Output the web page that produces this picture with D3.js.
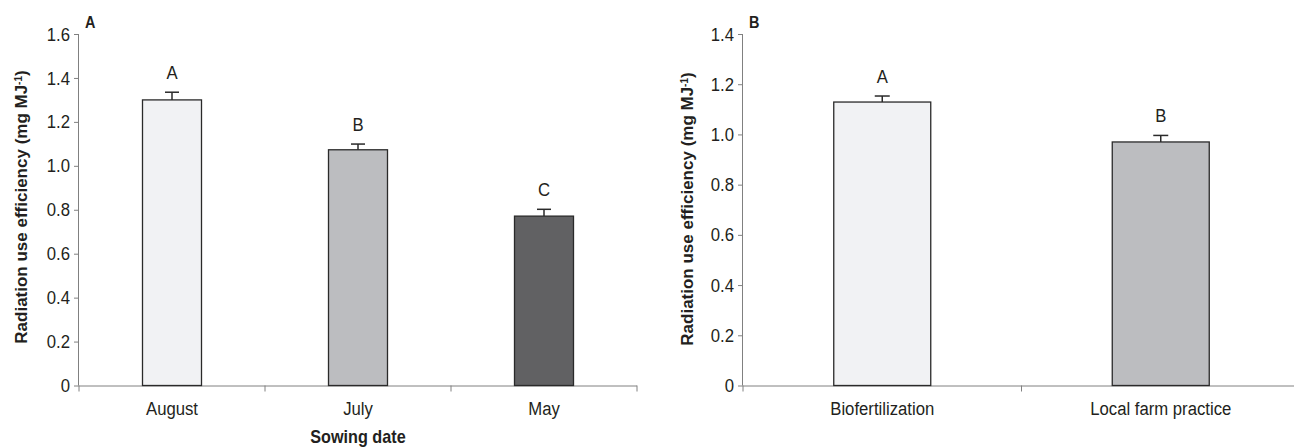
<!DOCTYPE html>
<html>
<head>
<meta charset="utf-8">
<script src="https://cdn.jsdelivr.net/npm/d3@7"></script>
<style>
html,body{margin:0;padding:0;background:#fff;}
svg{display:block;}
text{font-family:"Liberation Sans Narrow","Liberation Sans",Arial,sans-serif;fill:#231f20;}
</style>
</head>
<body>
<svg id="chart" width="1294" height="447"></svg>
<script>
// ---- data ----
const categoriesA = ["August", "July", "May"];
const valuesA = [1.30, 1.073, 0.771];
const errorsA = [0.035, 0.026, 0.031];
const lettersA = ["A", "B", "C"];
const colorsA = ["#f1f2f4", "#bcbdc0", "#616163"];
const ticksA = [0, 0.2, 0.4, 0.6, 0.8, 1.0, 1.2, 1.4, 1.6];

const categoriesB = ["Biofertilization", "Local farm practice"];
const valuesB = [1.129, 0.970];
const errorsB = [0.024, 0.026];
const lettersB = ["A", "B"];
const colorsB = ["#f1f2f4", "#bcbdc0"];
const ticksB = [0, 0.2, 0.4, 0.6, 0.8, 1.0, 1.2, 1.4];

const svg = d3.select("#chart");
const axisColor = "#808080";
const textColor = "#3a3a3a";
const fmt = v => v === 0 ? "0" : d3.format(".1f")(v);
const K = 0.88; // horizontal condensing to mimic a condensed typeface

function condense(sel, k) {
  sel.each(function () {
    const t = d3.select(this);
    const x = +(t.attr("x") || 0);
    t.attr("x", x / k).attr("transform", `scale(${k},1)`);
  });
}

function panel(opt) {
  const g = svg.append("g");
  const y = d3.scaleLinear().domain([0, opt.ymax]).range([opt.y0, opt.y1]);
  const p = opt.pad;
  const x = d3.scaleBand().domain(opt.cats).range([opt.x0, opt.x1])
    .paddingInner(p).paddingOuter(p / 2);

  // y axis
  const ya = g.append("g").attr("transform", `translate(${opt.x0},0)`)
    .call(d3.axisLeft(y).tickValues(opt.ticks).tickFormat(fmt).tickSize(5).tickPadding(4));
  ya.select(".domain").attr("stroke", axisColor).attr("d", `M-0.5,${opt.y1}V${opt.y0}`);
  ya.selectAll(".tick line").attr("stroke", axisColor);
  ya.selectAll(".tick text").attr("font-size", 19).attr("fill", textColor)
    .style("font-family", '"Liberation Sans", sans-serif');
  condense(ya.selectAll(".tick text"), K);

  // x axis
  const xa = g.append("g").attr("transform", `translate(0,${opt.y0})`)
    .call(d3.axisBottom(x).tickSize(0).tickPadding(16));
  xa.select(".domain").attr("stroke", axisColor).attr("d", `M${opt.x0},0.5H${opt.x1}`);
  xa.selectAll(".tick text").attr("font-size", 19).attr("fill", textColor)
    .style("font-family", '"Liberation Sans", sans-serif');
  condense(xa.selectAll(".tick text"), K);
  const step = x.step();
  const bounds = d3.range(opt.cats.length + 1).map(i => opt.x0 + i * step);
  g.selectAll(".bt").data(bounds).join("line")
    .attr("x1", d => d).attr("x2", d => d)
    .attr("y1", opt.y0).attr("y2", opt.y0 + 6)
    .attr("stroke", axisColor);

  // bars
  g.selectAll(".bar").data(opt.vals).join("rect")
    .attr("x", (d, i) => x(opt.cats[i]))
    .attr("y", d => y(d))
    .attr("width", x.bandwidth())
    .attr("height", d => y(0) - y(d))
    .attr("fill", (d, i) => opt.colors[i])
    .attr("stroke", "#2a2a2a").attr("stroke-width", 1.3);

  // error bars + significance letters
  const cx = i => x(opt.cats[i]) + x.bandwidth() / 2;
  opt.vals.forEach((v, i) => {
    g.append("line").attr("x1", cx(i)).attr("x2", cx(i))
      .attr("y1", y(v)).attr("y2", y(v + opt.errs[i]))
      .attr("stroke", "#2a2a2a").attr("stroke-width", 1.5);
    g.append("line").attr("x1", cx(i) - opt.cap).attr("x2", cx(i) + opt.cap)
      .attr("y1", y(v + opt.errs[i])).attr("y2", y(v + opt.errs[i]))
      .attr("stroke", "#2a2a2a").attr("stroke-width", 1.5);
    const lt = g.append("text").attr("x", cx(i)).attr("y", y(v + opt.errs[i]) - 13)
      .attr("text-anchor", "middle").attr("font-size", 19).attr("fill", textColor)
      .text(opt.letters[i]);
    condense(lt, K);
  });

  // y title
  const t = g.append("text")
    .attr("transform", `translate(${opt.titleX},${opt.titleY}) rotate(-90)`)
    .attr("text-anchor", "middle").attr("font-size", 17).attr("font-weight", "bold");
  t.append("tspan").text("Radiation use efficiency (mg MJ");
  t.append("tspan").attr("baseline-shift", "super").attr("font-size", 10).text("-1");
  t.append("tspan").text(")");

  // panel letter
  const pl = g.append("text").attr("x", opt.x0 + 6).attr("y", 28)
    .attr("font-size", 17).attr("font-weight", "bold").text(opt.label);
  condense(pl, 0.85);

  return {x, y};
}

panel({cats: categoriesA, vals: valuesA, errs: errorsA, letters: lettersA, colors: colorsA,
  ticks: ticksA, ymax: 1.6, x0: 79, x1: 637, y0: 385.5, y1: 34, pad: 1 - 59 / 186, cap: 7,
  titleX: 27, titleY: 207, label: "A"});
panel({cats: categoriesB, vals: valuesB, errs: errorsB, letters: lettersB, colors: colorsB,
  ticks: ticksB, ymax: 1.4, x0: 743, x1: 1300, y0: 385.5, y1: 34, pad: 1 - 97 / 278.5, cap: 7.5,
  titleX: 693, titleY: 209, label: "B"});

const sd = svg.append("text").attr("x", (79 + 637) / 2).attr("y", 443)
  .attr("text-anchor", "middle").attr("font-size", 18).attr("font-weight", "bold")
  .text("Sowing date");
condense(sd, 0.9);
</script>
</body>
</html>
